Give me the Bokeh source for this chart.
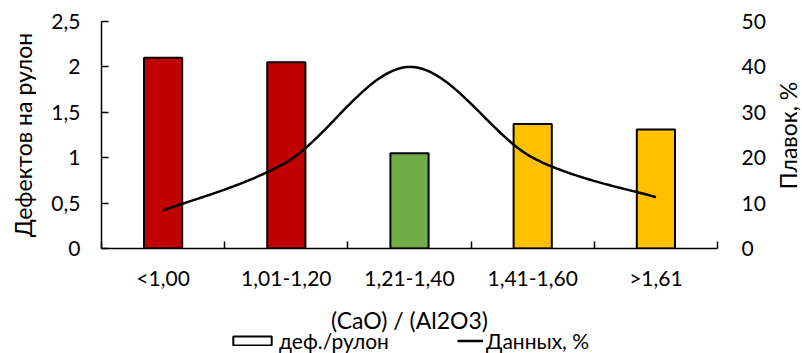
import math
import numpy as np
from bokeh.plotting import figure
from bokeh.layouts import column, row
from bokeh.models import (Range1d, LinearAxis, FixedTicker, Legend, LegendItem,
                          ColumnDataSource, Label)
from bokeh.embed import file_html
from bokeh.resources import INLINE

# --- data -------------------------------------------------------------
categories = ["<1,00", "1,01-1,20", "1,21-1,40", "1,41-1,60", ">1,61"]
defects_per_coil = [2.10, 2.05, 1.05, 1.37, 1.31]
heats_pct = [8.4, 19.0, 40.0, 20.0, 11.3]
bar_colors = ["#C00000", "#C00000", "#70AD47", "#FFC000", "#FFC000"]
left_ticks = [0, 0.5, 1, 1.5, 2, 2.5]
left_tick_labels = ["0", "0,5", "1", "1,5", "2", "2,5"]
right_ticks = [0, 10, 20, 30, 40, 50]
series_names = ["деф./рулон", "Данных, %"]
x_title = "(CaO) / (Al2O3)"
y_title = "Дефектов на рулон"
y2_title = "Плавок, %"

FONT = "Lato"
TICK_SIZE = "21px"
TITLE_SIZE = "23px"

# page geometry (pixels)
W, H = 802, 353
LEFT, RIGHT_MAIN, TOP, BOTTOM = 101, 57, 21, 48
SIDE_W = 28                       # strip for the secondary-axis title
MAIN_W = W - SIDE_W
MAIN_H = 296
STRIP_H = H - MAIN_H              # strip for the x title and legend

x_centers = [i + 0.5 for i in range(len(categories))]


def smooth_curve(xs, ys, n=40):
    """Cubic Bezier smoothing through every point (spreadsheet-style)."""
    pts = np.column_stack([xs, ys]).astype(float)
    ext = np.vstack([pts[0], pts, pts[-1]])
    out = []
    t = np.linspace(0, 1, n)[:, None]
    for i in range(1, len(ext) - 2):
        p0, p1, p2, p3 = ext[i - 1], ext[i], ext[i + 1], ext[i + 2]
        c1 = p1 + (p2 - p0) / 6
        c2 = p2 - (p3 - p1) / 6
        seg = ((1 - t) ** 3 * p1 + 3 * (1 - t) ** 2 * t * c1
               + 3 * (1 - t) * t ** 2 * c2 + t ** 3 * p2)
        out.append(seg if i == 1 else seg[1:])
    return np.vstack(out)


def bare(fig):
    fig.grid.visible = False
    fig.outline_line_color = None
    fig.background_fill_color = "white"
    fig.border_fill_color = "white"


# --- main chart -----------------------------------------------------------
p = figure(width=MAIN_W, height=MAIN_H, output_backend="svg", toolbar_location=None,
           x_range=Range1d(0, len(categories)), y_range=Range1d(0, 2.5),
           min_border_left=LEFT, min_border_right=RIGHT_MAIN,
           min_border_top=TOP, min_border_bottom=BOTTOM)
bare(p)

bars = ColumnDataSource(dict(x=x_centers, top=defects_per_coil, color=bar_colors))
p.vbar(x="x", top="top", width=0.31, source=bars, fill_color="color",
       line_color="black", line_width=2)

p.extra_y_ranges = {"pct": Range1d(0, 50)}
curve = smooth_curve(x_centers, heats_pct)
p.line(curve[:, 0], curve[:, 1], y_range_name="pct",
       line_color="black", line_width=2.5)

xa = p.xaxis[0]
xa.ticker = FixedTicker(ticks=x_centers, minor_ticks=list(range(len(categories) + 1)))
xa.major_label_overrides = {x: c for x, c in zip(x_centers, categories)}
xa.major_tick_line_color = None
xa.major_tick_in = 0
xa.major_tick_out = 0
xa.minor_tick_in = 7
xa.minor_tick_out = 0
xa.minor_tick_line_color = "black"
xa.minor_tick_line_width = 1.5
xa.axis_line_color = "black"
xa.axis_line_width = 1.5
xa.major_label_standoff = 16

ya = p.yaxis[0]
ya.ticker = FixedTicker(ticks=left_ticks, minor_ticks=[])
ya.major_label_overrides = {t: s for t, s in zip(left_ticks, left_tick_labels)}
ya.major_tick_in = 7
ya.major_tick_out = 0
ya.major_tick_line_color = "black"
ya.major_tick_line_width = 1.5
ya.axis_line_color = "black"
ya.axis_line_width = 1.5
ya.major_label_standoff = 21
ya.axis_label = y_title
ya.axis_label_standoff = 11

ra = LinearAxis(y_range_name="pct", ticker=FixedTicker(ticks=right_ticks, minor_ticks=[]),
                axis_line_color=None, major_tick_line_color=None,
                minor_tick_line_color=None, major_tick_in=0, major_tick_out=0,
                major_label_standoff=24)
p.add_layout(ra, "right")

for ax in (xa, ya, ra):
    ax.major_label_text_font = FONT
    ax.major_label_text_font_size = TICK_SIZE
    ax.major_label_text_color = "black"
    ax.axis_label_text_font = FONT
    ax.axis_label_text_font_size = TITLE_SIZE
    ax.axis_label_text_font_style = "normal"
    ax.axis_label_text_color = "black"

# --- strip on the right: secondary-axis title ------------------------------
frame_h = MAIN_H - TOP - BOTTOM
rs = figure(width=SIDE_W, height=MAIN_H, output_backend="svg", toolbar_location=None,
            x_range=Range1d(0, SIDE_W), y_range=Range1d(0, frame_h),
            x_axis_type=None, y_axis_type=None,
            min_border_left=0, min_border_right=0,
            min_border_top=TOP, min_border_bottom=BOTTOM)
bare(rs)
rs.add_layout(Label(x=13, y=frame_h - (135 - TOP), text=y2_title, angle=math.pi / 2,
                    text_align="center", text_baseline="middle",
                    text_font=FONT, text_font_size=TITLE_SIZE, text_color="black"))

# --- strip below: x title and legend ------------------------------------
frame_r = LEFT + (MAIN_W - LEFT - RIGHT_MAIN)
bs = figure(width=W, height=STRIP_H, output_backend="svg", toolbar_location=None,
            x_range=Range1d(LEFT, frame_r), y_range=Range1d(0, STRIP_H),
            x_axis_type=None, y_axis_type=None,
            min_border_left=LEFT, min_border_right=W - frame_r,
            min_border_top=0, min_border_bottom=0)
bare(bs)

# swatch-only renderers: NaN data, so only their legend glyphs are drawn
nan = float("nan")
box_r = bs.vbar(x=[nan], top=[nan], bottom=[nan], width=1, fill_color="white",
                line_color="black", line_width=2)
line_r = bs.line(x=[nan, nan], y=[nan, nan], line_color="black", line_width=2.5)


def make_legend(label, renderer, x_px, glyph_w, glyph_h):
    lg = Legend(items=[LegendItem(label=label, renderers=[renderer])],
                location=(x_px - LEFT, 0), orientation="horizontal",
                glyph_width=glyph_w, glyph_height=glyph_h,
                label_standoff=3, padding=0, margin=0, spacing=0,
                border_line_color=None, background_fill_alpha=0,
                item_background_fill_alpha=0,
                label_text_font=FONT, label_text_font_size="21px",
                label_text_color="black", label_height=22)
    bs.add_layout(lg, "center")


make_legend(series_names[0], box_r, 228, 48, 11)
make_legend(series_names[1], line_r, 457, 26, 11)

# x title drawn last so nothing paints over it
bs.add_layout(Label(x=(LEFT + frame_r) / 2, y=H - 319, text=x_title,
                    text_align="center", text_baseline="middle",
                    text_font=FONT, text_font_size=TITLE_SIZE, text_color="black"))

layout = column(row(p, rs, spacing=0), bs, spacing=0)
open("out.html", "w").write(file_html(layout, INLINE))
